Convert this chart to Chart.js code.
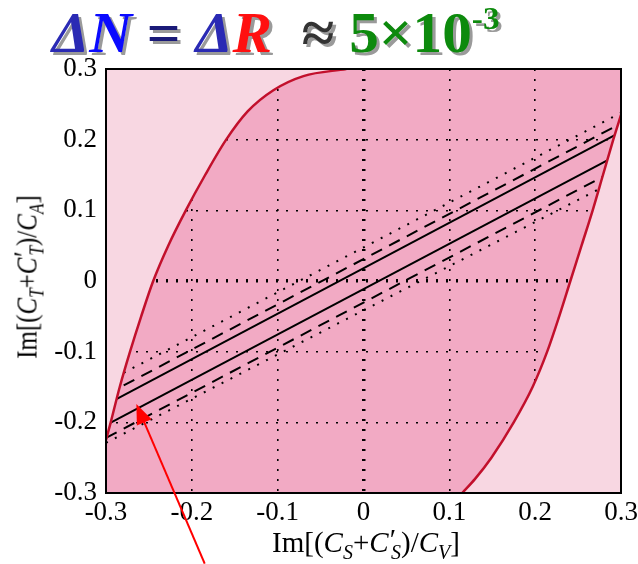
<!DOCTYPE html>
<html>
<head>
<meta charset="utf-8">
<script src="https://cdn.jsdelivr.net/npm/chart.js@4.4.0/dist/chart.umd.min.js"></script>
<style>
    body { margin: 0; background: #fff; }
    #wrap { position: relative; width: 638px; height: 564px; overflow: hidden; }
    #grafico { position: absolute; left: 0; top: 0; }
    #titulo {
        position: absolute; left: 52px; top: 4px;
        font: bold 57px "Liberation Serif", serif; line-height: 57px;
        white-space: pre; text-shadow: 3px 3px 0 #9a9a9a;
        transform-origin: 0 0; transform: scaleX(1.04);
    }
    #titulo .exp { font-size: 32px; position: relative; top: -23px; }
    .eixo { position: absolute; font: 29px "Liberation Serif", serif; line-height: 29px; white-space: nowrap; color: #000; }
    .eixo sub { font-size: 20px; vertical-align: -7px; line-height: 0; }
    .eixo .pr { margin-left: 1px; position: relative; top: -3px; }
    .eixo .pr + sub { margin-left: -5px; }
    #tituloX { left: 366px; top: 528px; transform: translateX(-50%); }
    #tituloY { left: 27px; top: 277px; transform: translate(-50%, -50%) rotate(-90deg) scaleX(0.86); }
</style>
</head>
<body>
<div id="wrap">
    <canvas id="grafico" width="638" height="564"></canvas>
    <div id="titulo"><span style="color:#2a2ab4;font-style:italic">Δ</span><span style="color:#0a0aff;font-style:italic">N</span> <span style="color:#1a1a78">=</span> <span style="color:#2a2ab4;font-style:italic">Δ</span><span style="color:#ff1010;font-style:italic">R</span>  <span style="color:#333">≈</span> <span style="color:#0d8a0d">5×10<span class="exp">-3</span></span></div>
    <div class="eixo" id="tituloX">Im[(<i>C</i><sub><i>S</i></sub>+<i>C</i><span class="pr">′</span><sub><i>S</i></sub>)/<i>C</i><sub><i>V</i></sub>]</div>
    <div class="eixo" id="tituloY">Im[(<i>C</i><sub><i>T</i></sub>+<i>C</i><span class="pr">′</span><sub><i>T</i></sub>)/<i>C</i><sub><i>A</i></sub>]</div>
</div>
<script>
// ticks
const xTickLabels = ['-0.3', '-0.2', '-0.1', '0', '0.1', '0.2', '0.3'];
const yTickLabels = ['-0.3', '-0.2', '-0.1', '0', '0.1', '0.2', '0.3'];

// curva vermelha da esquerda (acima dela: região clara)
const curvaEsqX = [-0.300, -0.2945, -0.284, -0.272, -0.259, -0.245, -0.2275, -0.207, -0.1845, -0.160, -0.135, -0.105, -0.070, -0.020];
const curvaEsqY = [-0.225, -0.2, -0.15, -0.1, -0.05, 0.0, 0.05, 0.1, 0.15, 0.2, 0.24, 0.27, 0.29, 0.3];

// curva vermelha da direita (abaixo dela: região clara)
const curvaDirX = [0.115, 0.130, 0.149, 0.175, 0.197, 0.214, 0.228, 0.241, 0.254, 0.267, 0.279, 0.291, 0.300];
const curvaDirY = [-0.3, -0.28, -0.25, -0.2, -0.15, -0.1, -0.05, 0.0, 0.05, 0.1, 0.15, 0.2, 0.235];

// retas (contínuas, tracejadas, pontilhadas)
const retaX = [-0.3, 0.3];
const continuaSupY = [-0.175, 0.211];
const continuaInfY = [-0.204, 0.181];
const tracejadaSupY = [-0.161, 0.223];
const tracejadaInfY = [-0.222, 0.161];
const pontilhadaSupY = [-0.143, 0.238];
const pontilhadaInfY = [-0.229, 0.146];

// seta vermelha (cauda -> ponta)
const setaX = [-0.185, -0.2646];
const setaY = [-0.40, -0.174];

function pontos(xs, ys) {
    return xs.map(function (x, i) { return { x: x, y: ys[i] }; });
}

function reta(ys, dash) {
    return {
        data: pontos(retaX, ys),
        showLine: true,
        borderColor: '#000',
        borderWidth: 2,
        borderDash: dash,
        pointRadius: 0,
        fill: false
    };
}

function curva(xs, ys, fill) {
    return {
        data: pontos(xs, ys),
        showLine: true,
        borderColor: '#c2102c',
        borderWidth: 2.5,
        backgroundColor: '#f8d7e2',
        fill: fill,
        cubicInterpolationMode: 'monotone',
        pointRadius: 0
    };
}

const fundoPlugin = {
    id: 'fundo',
    beforeDraw: function (chart) {
        const a = chart.chartArea;
        const ctx = chart.ctx;
        ctx.save();
        ctx.fillStyle = '#f2aac4';
        ctx.fillRect(a.left, a.top, a.right - a.left, a.bottom - a.top);
        ctx.restore();
    },
    afterDraw: function (chart) {
        const a = chart.chartArea;
        const ctx = chart.ctx;
        const sx = chart.scales.x, sy = chart.scales.y;
        ctx.save();
        // moldura
        ctx.strokeStyle = '#000';
        ctx.lineWidth = 2;
        ctx.strokeRect(a.left, a.top, a.right - a.left, a.bottom - a.top);
        // seta
        const x0 = sx.getPixelForValue(setaX[0]), y0 = sy.getPixelForValue(setaY[0]);
        const x1 = sx.getPixelForValue(setaX[1]), y1 = sy.getPixelForValue(setaY[1]);
        const ang = Math.atan2(y1 - y0, x1 - x0);
        const comp = 20, larg = 8;
        ctx.strokeStyle = '#ff0000';
        ctx.fillStyle = '#ff0000';
        ctx.lineWidth = 2;
        ctx.beginPath();
        ctx.moveTo(x0, y0);
        ctx.lineTo(x1 - Math.cos(ang) * comp * 0.8, y1 - Math.sin(ang) * comp * 0.8);
        ctx.stroke();
        ctx.beginPath();
        ctx.moveTo(x1, y1);
        ctx.lineTo(x1 - Math.cos(ang) * comp - Math.sin(ang) * larg, y1 - Math.sin(ang) * comp + Math.cos(ang) * larg);
        ctx.lineTo(x1 - Math.cos(ang) * comp + Math.sin(ang) * larg, y1 - Math.sin(ang) * comp - Math.cos(ang) * larg);
        ctx.closePath();
        ctx.fill();
        ctx.restore();
    }
};

function largura(ctx) {
    return Math.abs(ctx.tick.value) < 1e-9 ? 3.5 : 1.6;
}

const grafico = new Chart(document.getElementById('grafico'), {
    type: 'scatter',
    data: {
        datasets: [
            curva(curvaEsqX, curvaEsqY, 'end'),
            curva(curvaDirX, curvaDirY, 'start'),
            reta(pontilhadaSupY, [2, 8]),
            reta(pontilhadaInfY, [2, 8]),
            reta(tracejadaSupY, [12, 8]),
            reta(tracejadaInfY, [12, 8]),
            reta(continuaSupY, []),
            reta(continuaInfY, [])
        ]
    },
    options: {
        responsive: false,
        animation: false,
        layout: { padding: { top: 69, right: 17, left: 0, bottom: 0 } },
        plugins: { legend: { display: false }, tooltip: { enabled: false } },
        scales: {
            x: {
                type: 'linear', min: -0.3, max: 0.3, z: 1,
                afterFit: function (s) { s.height = 71; s.paddingLeft = 0; s.paddingRight = 0; },
                ticks: {
                    stepSize: 0.1, padding: 4, color: '#000',
                    font: { family: 'Liberation Serif', size: 27 },
                    callback: function (v, i) { return xTickLabels[i]; }
                },
                grid: { color: '#000', lineWidth: largura, drawTicks: false },
                border: { display: false, dash: [2, 8] }
            },
            y: {
                type: 'linear', min: -0.3, max: 0.3, z: 1,
                afterFit: function (s) { s.width = 106; s.paddingTop = 0; s.paddingBottom = 0; },
                ticks: {
                    stepSize: 0.1, padding: 9, color: '#000',
                    font: { family: 'Liberation Serif', size: 27 },
                    callback: function (v, i) { return yTickLabels[i]; }
                },
                grid: { color: '#000', lineWidth: largura, drawTicks: false },
                border: { display: false, dash: [2, 8] }
            }
        }
    },
    plugins: [fundoPlugin]
});
</script>
</body>
</html>
